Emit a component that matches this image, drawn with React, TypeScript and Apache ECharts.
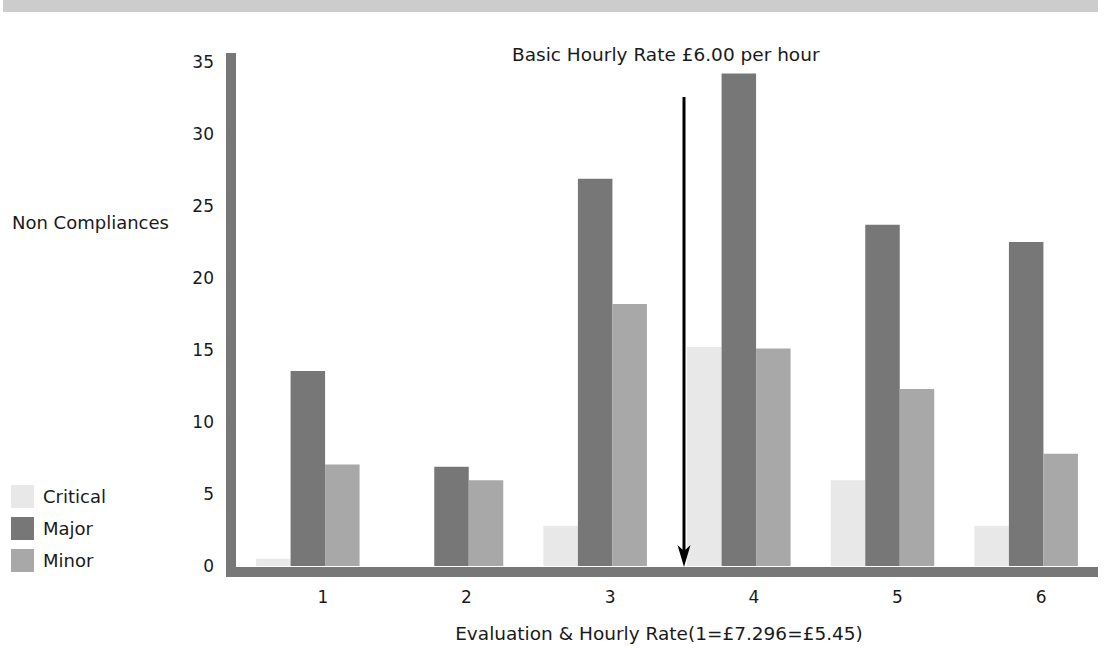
import React, { useEffect, useRef } from "react";
import * as echarts from "echarts";

const categories = ["1", "2", "3", "4", "5", "6"];
const seriesNames = ["Critical", "Major", "Minor"];
const critical = [0.5, 0, 2.8, 15.2, 5.95, 2.8];
const major = [13.55, 6.9, 26.9, 34.2, 23.7, 22.5];
const minor = [7.05, 5.95, 18.2, 15.1, 12.3, 7.8];
const seriesColors = ["#e8e8e8", "#777777", "#a8a8a8"];

const titleText = "Basic Hourly Rate £6.00 per hour";
const yTitle = "Non Compliances";
const xTitle = "Evaluation & Hourly Rate(1=£7.296=£5.45)";

const FONT = "DejaVu Sans";

export default function App() {
  const ref = useRef<HTMLDivElement>(null);
  useEffect(() => {
    document.body.style.margin = "0";
    const chart = echarts.init(ref.current!, null, { renderer: "svg" });
    const values = [critical, major, minor];
    chart.setOption({
      animation: false,
      backgroundColor: "#ffffff",
      textStyle: { fontFamily: FONT },
      title: {
        text: titleText,
        left: 512,
        top: 45,
        padding: 0,
        textStyle: { fontFamily: FONT, fontSize: 18.5, fontWeight: "normal", color: "#1a1a1a" },
      },
      legend: {
        data: seriesNames,
        orient: "vertical",
        left: 11,
        top: 485,
        padding: 0,
        itemWidth: 23,
        itemHeight: 23,
        itemGap: 9,
        icon: "rect",
        textStyle: { fontFamily: FONT, fontSize: 18, color: "#1a1a1a", padding: [0, 0, 0, 4] },
      },
      grid: { left: 236, right: 10, top: 62, bottom: 80 },
      xAxis: {
        type: "category",
        data: categories,
        axisLine: { show: false },
        axisTick: { show: false },
        axisLabel: {
          fontFamily: FONT,
          fontSize: 17,
          color: "#1a1a1a",
          margin: 22,
          padding: [0, 0, 0, 30],
        },
        name: xTitle,
        nameLocation: "middle",
        nameGap: 58,
        nameTextStyle: { fontFamily: FONT, fontSize: 18.5, color: "#1a1a1a", padding: [0, 16, 0, 0] },
      },
      yAxis: {
        type: "value",
        min: 0,
        max: 35,
        interval: 5,
        axisLine: { show: false },
        axisTick: { show: false },
        splitLine: { show: false },
        axisLabel: { fontFamily: FONT, fontSize: 17, color: "#1a1a1a", margin: 22 },
      },
      series: seriesNames.map((name, i) => ({
        name,
        type: "bar",
        data: values[i],
        barWidth: 34.5,
        barGap: "0%",
        itemStyle: { color: seriesColors[i] },
        z: 2,
      })),
      graphic: [
        { type: "rect", left: 3, top: 0, shape: { width: 1095, height: 12 }, style: { fill: "#cccccc" }, silent: true },
        { type: "rect", shape: { x: 226, y: 53, width: 10, height: 524 }, style: { fill: "#777777" }, z: 10, silent: true },
        { type: "rect", shape: { x: 226, y: 567, width: 872, height: 10 }, style: { fill: "#777777" }, z: 10, silent: true },
        {
          type: "text",
          left: 12,
          top: 213,
          style: { text: yTitle, font: `18px "${FONT}"`, fill: "#1a1a1a" },
          silent: true,
        },
        {
          type: "line",
          shape: { x1: 684, y1: 97, x2: 684, y2: 553 },
          style: { stroke: "#000000", lineWidth: 3 },
          z: 11,
          silent: true,
        },
        {
          type: "polygon",
          shape: { points: [[684, 567], [677.5, 545], [684, 551], [690.5, 545]] },
          style: { fill: "#000000" },
          z: 11,
          silent: true,
        },
      ],
    });
    return () => chart.dispose();
  }, []);
  return <div ref={ref} style={{ width: 1108, height: 648 }} />;
}
